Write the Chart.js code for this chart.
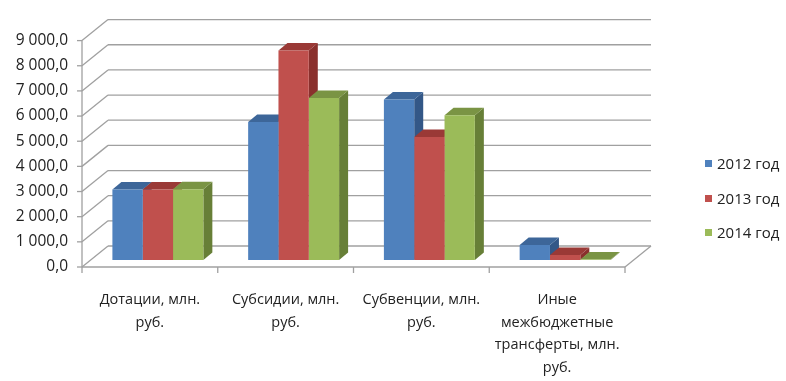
<!DOCTYPE html>
<html>
<head>
<meta charset="utf-8">
<script src="https://cdn.jsdelivr.net/npm/chart.js@4.4.1/dist/chart.umd.min.js"></script>
<style>
  html, body { margin: 0; padding: 0; background: #fff; }
  .wrap { position: relative; width: 786px; height: 381px; }
  .legend-item { position: absolute; left: 705px; height: 22px; line-height: 22px; font-family: "Open Sans", sans-serif; font-size: 15px; color: #222; white-space: nowrap; }
  .legend-item span { display: inline-block; width: 7px; height: 7px; margin-right: 5px; vertical-align: middle; position: relative; top: -1px; }
</style>
</head>
<body>
<div class="wrap">
  <canvas id="chart" width="786" height="381"></canvas>
  <div id="legend"></div>
</div>
<script>
const categories = [
  ["Дотации, млн.", "руб."],
  ["Субсидии, млн.", "руб."],
  ["Субвенции, млн.", "руб."],
  ["Иные", "межбюджетные", "трансферты, млн.", "руб."]
];
const seriesNames = ["2012 год", "2013 год", "2014 год"];
const values2012 = [2800, 5490, 6380, 600];
const values2013 = [2800, 8330, 4890, 200];
const values2014 = [2810, 6440, 5750, 20];
const yTickLabels = ["0,0", "1 000,0", "2 000,0", "3 000,0", "4 000,0", "5 000,0", "6 000,0", "7 000,0", "8 000,0", "9 000,0"];

const frontColors = ["#4F81BD", "#C0504D", "#9BBB59"];
const topColors = ["#3D6699", "#9A3936", "#7A9444"];
const sideColors = ["#335787", "#8A302D", "#677F37"];

// depth of the bars and offsets of the front / back planes from the bar plane
const DX = 9, DY = -7.5;
const FX = -8, FY = 7;
const BX = 18, BY = -14;

function line(ctx, x1, y1, x2, y2) {
  ctx.beginPath();
  ctx.moveTo(x1, y1);
  ctx.lineTo(x2, y2);
  ctx.stroke();
}

function poly(ctx, pts) {
  ctx.beginPath();
  ctx.moveTo(pts[0][0], pts[0][1]);
  pts.slice(1).forEach(p => ctx.lineTo(p[0], p[1]));
  ctx.closePath();
  ctx.fill();
}

const box3d = {
  id: "box3d",
  beforeDatasetsDraw(chart) {
    const ctx = chart.ctx;
    const area = chart.chartArea;
    const x = chart.scales.x;
    const y = chart.scales.y;
    const by = y.getPixelForValue(0);
    ctx.save();
    ctx.strokeStyle = "#a0a0a0";
    ctx.lineWidth = 1.3;

    // back wall and left wall
    y.ticks.forEach(t => {
      const py = y.getPixelForValue(t.value);
      line(ctx, area.left + BX, py + BY, area.right + BX, py + BY);
      line(ctx, area.left + FX, py + FY, area.left + BX, py + BY);
      line(ctx, area.left + FX, py + FY, area.left + FX - 5, py + FY);
    });
    line(ctx, area.left + FX, by + FY, area.left + FX, y.getPixelForValue(9000) + FY);

    // floor
    line(ctx, area.left + FX, by + FY, area.right + FX, by + FY);
    line(ctx, area.right + FX, by + FY, area.right + BX, by + BY);
    for (let i = 0; i <= categories.length; i++) {
      const px = x.getPixelForValue(i - 0.5) + FX;
      line(ctx, px, by + FY, px, by + FY + 6);
    }

    // top and side faces of the bars
    chart.data.labels.forEach((_, i) => {
      chart.data.datasets.forEach((ds, d) => {
        const bar = chart.getDatasetMeta(d).data[i];
        const l = bar.x - bar.width / 2, r = bar.x + bar.width / 2;
        const t = bar.y, b = bar.base;
        ctx.fillStyle = sideColors[d];
        poly(ctx, [[r, t], [r + DX, t + DY], [r + DX, b + DY], [r, b]]);
        ctx.fillStyle = topColors[d];
        poly(ctx, [[l, t], [l + DX, t + DY], [r + DX, t + DY], [r, t]]);
      });
    });
    ctx.restore();
  }
};

const family = "'Open Sans', sans-serif";

new Chart(document.getElementById("chart"), {
  type: "bar",
  data: {
    labels: categories,
    datasets: [
      { label: seriesNames[0], data: values2012, backgroundColor: frontColors[0] },
      { label: seriesNames[1], data: values2013, backgroundColor: frontColors[1] },
      { label: seriesNames[2], data: values2014, backgroundColor: frontColors[2] }
    ]
  },
  options: {
    responsive: false,
    animation: false,
    devicePixelRatio: 1,
    layout: { padding: { left: 0, right: 153, top: 33.6, bottom: 0 } },
    datasets: { bar: { categoryPercentage: 0.67, barPercentage: 1, borderWidth: 0 } },
    plugins: { legend: { display: false }, tooltip: { enabled: false } },
    scales: {
      x: {
        grid: { display: false, drawTicks: false },
        border: { display: false },
        ticks: {
          font: { family: family, size: 14.5, lineHeight: 1.55 },
          color: "#222",
          padding: 29,
          labelOffset: FX,
          maxRotation: 0,
          autoSkip: false
        },
        afterFit: s => { s.height = 121; }
      },
      y: {
        min: 0,
        max: 9000,
        grid: { display: false, drawTicks: false },
        border: { display: false },
        ticks: {
          stepSize: 1000,
          font: { family: family, size: 15.5 },
          color: "#222",
          padding: 22,
          labelOffset: FY,
          callback: (v, i) => yTickLabels[i]
        },
        afterFit: s => { s.width = 90; }
      }
    }
  },
  plugins: [box3d]
});

const legend = document.getElementById("legend");
seriesNames.forEach((name, i) => {
  const item = document.createElement("div");
  item.className = "legend-item";
  item.style.top = (152 + i * 34.5) + "px";
  const box = document.createElement("span");
  box.style.background = frontColors[i];
  item.appendChild(box);
  item.appendChild(document.createTextNode(name));
  legend.appendChild(item);
});
</script>
</body>
</html>
